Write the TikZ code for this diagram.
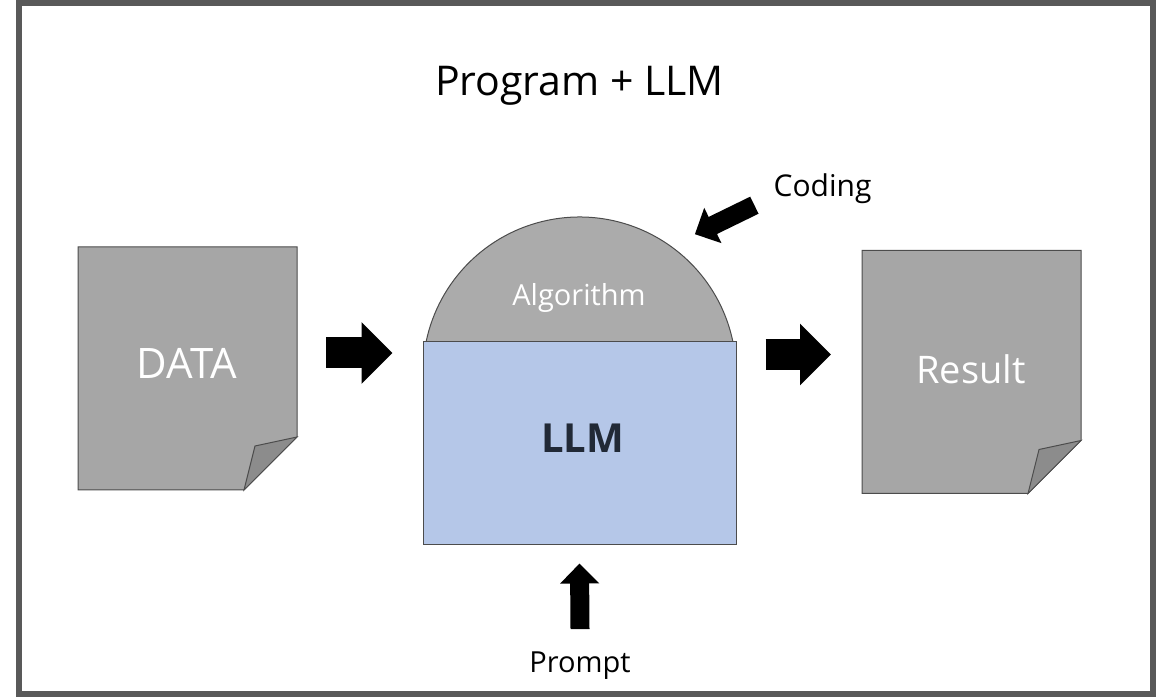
\documentclass[tikz,border=0pt]{standalone}
\usepackage{fontspec}
\setmainfont{Open Sans}
\usetikzlibrary{arrows.meta,calc}
\definecolor{FrameClr}{rgb}{0.35,0.35,0.35}
\definecolor{PageClr}{rgb}{0.65,0.65,0.65}
\definecolor{FoldClr}{rgb}{0.55,0.55,0.55}
\definecolor{DomeClr}{rgb}{0.67,0.67,0.67}
\definecolor{LLMClr}{rgb}{0.71,0.78,0.91}
\definecolor{EdgeClr}{rgb}{0.3,0.3,0.3}
\definecolor{InkClr}{rgb}{0.13,0.16,0.21}

\tikzset{
  page/.style={minimum width=219pt,minimum height=243pt,inner sep=0pt,outer sep=0pt},
  shapeline/.style={draw=EdgeClr,line width=1pt},
  label/.style={anchor=base,inner sep=0pt,text=black},
  whitelabel/.style={anchor=base,inner sep=0pt,text=white},
  bigarrow/.style={line width=31pt,-{Triangle[width=60pt,length=31pt]}},
  slimarrow/.style={line width=19pt,-{Triangle[width=38pt,length=20pt]}}
}

\newcommand{\DrawPage}[1]{%
  \filldraw[shapeline,fill=PageClr] (#1.north west) -- (#1.north east)
    -- ([yshift=53pt]#1.south east) -- ([xshift=-53pt]#1.south east)
    -- (#1.south west) -- cycle;
  \filldraw[shapeline,fill=FoldClr] ([yshift=53pt]#1.south east)
    -- ([shift={(-42,44)}]#1.south east) -- ([xshift=-53pt]#1.south east) -- cycle;}

\begin{document}
\begin{tikzpicture}[x=1pt,y=1pt]
\useasboundingbox (0,0) rectangle (1166,696);
\draw[FrameClr,line width=6pt] (19,2.5) rectangle (1153,693);

\node[label,font=\fontsize{41}{48}\selectfont] (title) at (579.5,600) {Program + LLM};

\node[page] (data) at (187.5,327.5) {};
\node[page] (result) at (971.5,324) {};
\DrawPage{data}
\DrawPage{result}
\node[whitelabel,font=\fontsize{42}{50}\selectfont] (datatxt) at (187,317) {DATA};
\node[whitelabel,font=\fontsize{38}{44}\selectfont] (resulttxt) at (971,312) {Result};

\coordinate (domeC) at (579.5,322.3);
\filldraw[shapeline,fill=DomeClr] ([shift={(11.7:156.7)}]domeC)
  arc[start angle=11.7,end angle=168.3,radius=156.7pt] -- cycle;
\node[shapeline,fill=LLMClr,minimum width=313pt,minimum height=202pt] (llm) at (579.5,253) {};
\node[whitelabel,font=\fontsize{29}{34}\selectfont] (algo) at (579,390) {Algorithm};
\node[label,text=InkClr,font=\fontsize{40}{48}\selectfont\bfseries] (llmtxt) at (582.5,243) {LLM};

\node[label,font=\fontsize{30}{36}\selectfont] (coding) at (822.5,499) {Coding};
\node[label,font=\fontsize{29}{34}\selectfont] (prompt) at (580,24) {Prompt};

\draw[bigarrow] ([shift={(29,15.5)}]data.east) -- ([shift={(-30,90)}]llm.west);
\draw[bigarrow] ([shift={(29,88.5)}]llm.east) -- ([shift={(-31,17.5)}]result.west);
\draw[slimarrow] ([yshift=22pt]prompt.north) -- ([yshift=-19pt]llm.south);
\draw[slimarrow] ([shift={(-19,-16)}]coding.west) -- ([shift={(50.4:181)}]domeC);

\end{tikzpicture}
\end{document}
